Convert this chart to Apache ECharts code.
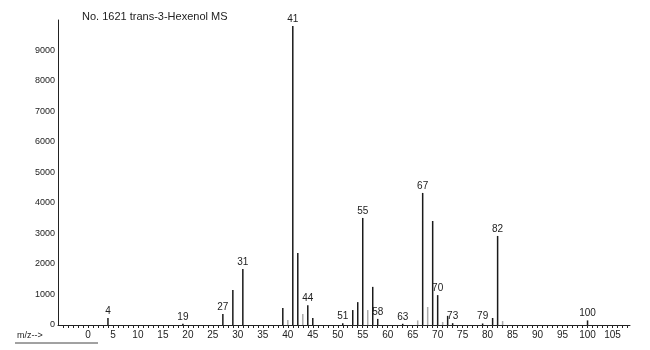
<!DOCTYPE html>
<html>
<head>
<meta charset="utf-8">
<script src="https://cdn.jsdelivr.net/npm/echarts@6/dist/echarts.min.js"></script>
<style>html,body{margin:0;padding:0;background:#fff}#c{width:650px;height:350px}</style>
</head>
<body>
<div id="c"></div>
<script>
var titleText = 'No. 1621 trans-3-Hexenol MS';
var mz = [4, 19, 27, 29, 31, 39, 40, 41, 42, 43, 44, 45, 51, 53, 54, 55, 56, 57, 58, 63, 66, 67, 68, 69, 70, 71, 72, 73, 79, 81, 82, 83, 100];
var intensity = [230, 40, 360, 1150, 1840, 560, 160, 9800, 2360, 360, 650, 230, 60, 490, 750, 3510, 490, 1250, 200, 40, 150, 4330, 590, 3410, 980, 100, 300, 60, 50, 230, 2920, 130, 150];
var labeledPeaks = [4, 19, 27, 31, 41, 44, 51, 55, 58, 63, 67, 70, 73, 79, 82, 100];
var faintPeaks = [40, 43, 56, 66, 68, 71, 83];
var xTickLabels = [0, 5, 10, 15, 20, 25, 30, 35, 40, 45, 50, 55, 60, 65, 70, 75, 80, 85, 90, 95, 100, 105];
var yTickLabels = [0, 1000, 2000, 3000, 4000, 5000, 6000, 7000, 8000, 9000];

var minorTicks = [];
for (var t = -5; t <= 108; t++) minorTicks.push(t);

var data = mz.map(function (m, i) {
  var faint = faintPeaks.indexOf(m) >= 0;
  return {
    value: [m, intensity[i]],
    itemStyle: { color: faint ? '#aaaaaa' : '#1a1a1a' },
    label: { show: labeledPeaks.indexOf(m) >= 0 }
  };
});

var chart = echarts.init(document.getElementById('c'), null, { renderer: 'canvas' });
chart.setOption({
  animation: false,
  backgroundColor: '#ffffff',
  title: {
    text: titleText, left: 77, top: 6,
    textStyle: { fontFamily: 'Liberation Sans', fontSize: 11, fontWeight: 'normal', color: '#222' }
  },
  grid: { left: 58, right: 20, top: 20, bottom: 25 },
  xAxis: {
    type: 'value', min: -6, max: 108.5,
    axisLine: { onZero: false, lineStyle: { color: '#222', width: 1 } },
    axisTick: { show: true, customValues: minorTicks, length: 3, lineStyle: { color: '#222' } },
    axisLabel: { customValues: xTickLabels, fontFamily: 'Liberation Sans', fontSize: 10, color: '#222', margin: 5 },
    splitLine: { show: false }
  },
  yAxis: {
    type: 'value', min: 0, max: 10000,
    axisLine: { show: true, onZero: false, lineStyle: { color: '#222', width: 1 } },
    axisTick: { show: false },
    axisLabel: {
      customValues: yTickLabels, fontFamily: 'Liberation Sans', fontSize: 9, color: '#222', margin: 3,
      formatter: function (v) { return String(v); }
    },
    splitLine: { show: false }
  },
  series: [{
    type: 'bar',
    barWidth: 1.5,
    data: data,
    label: {
      position: 'top', distance: 2,
      formatter: function (p) { return p.value[0]; },
      fontFamily: 'Liberation Sans', fontSize: 10, color: '#222'
    }
  }],
  graphic: [
    { type: 'text', left: 17, top: 331, style: { text: 'm/z-->', fontFamily: 'Liberation Sans', fontSize: 9, fill: '#222' } },
    { type: 'line', shape: { x1: 15, y1: 343, x2: 98, y2: 343 }, style: { stroke: '#444', lineWidth: 1 } }
  ]
});
</script>
</body>
</html>
